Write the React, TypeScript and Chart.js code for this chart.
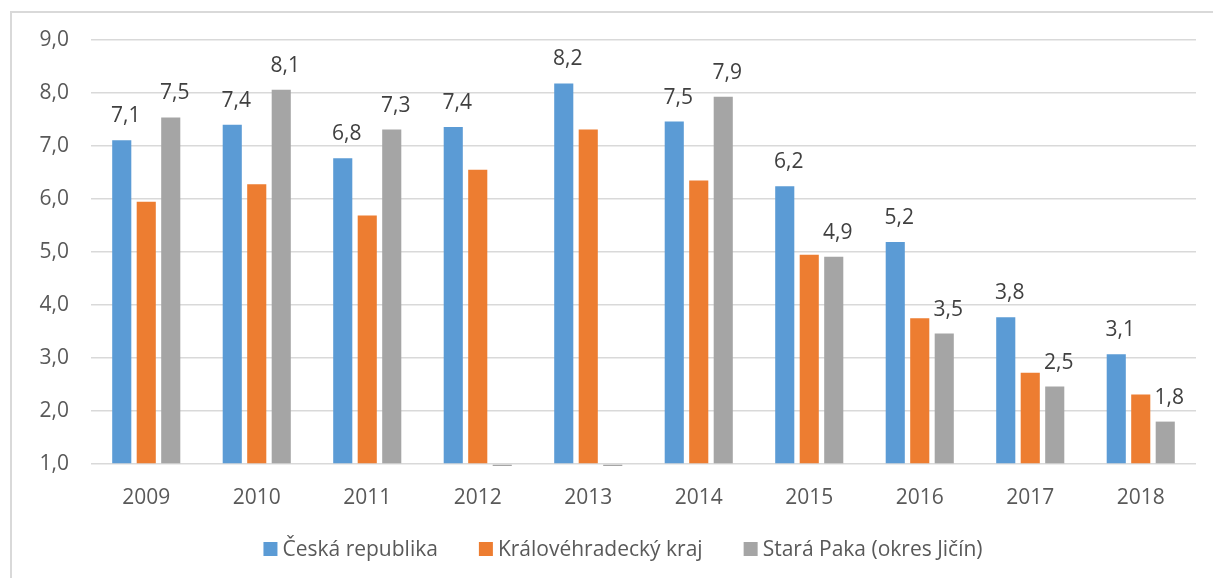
import React, { useEffect, useRef } from "react";
import { Chart, registerables } from "chart.js";

Chart.register(...registerables);

const years = ["2009", "2010", "2011", "2012", "2013", "2014", "2015", "2016", "2017", "2018"];
const ceskaRepublika = [7.11, 7.4, 6.77, 7.36, 8.18, 7.46, 6.24, 5.19, 3.77, 3.07];
const kralovehradeckyKraj = [5.95, 6.28, 5.69, 6.55, 7.31, 6.35, 4.95, 3.75, 2.72, 2.31];
const staraPaka = [7.54, 8.06, 7.31, 0, 0, 7.93, 4.91, 3.46, 2.46, 1.8];

const seriesNames = ["Česká republika", "Královéhradecký kraj", "Stará Paka (okres Jičín)"];
const seriesColors = ["#5B9BD5", "#ED7D31", "#A5A5A5"];
const labelledSeries = [true, false, true];

const yMin = 1;
const yMax = 9;
const yStep = 1;

const FONT = "'Open Sans', sans-serif";
const FS = 21;
const fmt = (v: number) => v.toFixed(1).replace(".", ",");

export default function App() {
  const ref = useRef<HTMLCanvasElement>(null);

  useEffect(() => {
    if (!ref.current) return;

    const labelPlugin = {
      id: "valueLabelsAndLegend",
      afterDatasetsDraw(chart: any) {
        const ctx = chart.ctx;
        ctx.save();
        ctx.font = `${FS}px ${FONT}`;
        ctx.fillStyle = "#404040";
        ctx.textAlign = "center";
        ctx.textBaseline = "alphabetic";
        chart.data.datasets.forEach((ds: any, i: number) => {
          if (!labelledSeries[i]) return;
          const meta = chart.getDatasetMeta(i);
          meta.data.forEach((bar: any, j: number) => {
            const v = ds.data[j];
            if (v == null || v < yMin) return;
            ctx.fillText(fmt(v), bar.x + 4, bar.y - 18);
          });
        });
        ctx.restore();
      },
      afterDraw(chart: any) {
        const ctx = chart.ctx;
        ctx.save();
        ctx.font = `${FS}px ${FONT}`;
        const box = 14;
        const gapText = 5;
        const gapItem = 41;
        const widths = seriesNames.map((n) => box + gapText + ctx.measureText(n).width);
        const total = widths.reduce((a, b) => a + b, 0) + gapItem * (seriesNames.length - 1);
        const centerX = 623;
        const y = 549;
        let x = centerX - total / 2;
        seriesNames.forEach((name, i) => {
          ctx.fillStyle = seriesColors[i];
          ctx.fillRect(x, y - 7, box, box);
          ctx.fillStyle = "#595959";
          ctx.textAlign = "left";
          ctx.textBaseline = "middle";
          ctx.fillText(name, x + box + gapText, y + 1);
          x += widths[i] + gapItem;
        });
        ctx.restore();
      },
    };

    const chart = new Chart(ref.current, {
      type: "bar",
      data: {
        labels: years,
        datasets: [
          { label: seriesNames[0], data: ceskaRepublika, backgroundColor: seriesColors[0], base: yMin },
          { label: seriesNames[1], data: kralovehradeckyKraj, backgroundColor: seriesColors[1], base: yMin },
          {
            label: seriesNames[2],
            data: staraPaka,
            backgroundColor: seriesColors[2],
            base: yMin,
            clip: { left: false, top: false, right: false, bottom: 2 } as any,
          },
        ] as any,
      },
      options: {
        responsive: false,
        animation: false,
        devicePixelRatio: 1,
        categoryPercentage: 0.665,
        barPercentage: 0.78,
        layout: { padding: { left: 0, right: 17, top: 40, bottom: 54 } },
        plugins: {
          legend: { display: false },
          tooltip: { enabled: false },
        },
        scales: {
          x: {
            grid: { display: false },
            border: { display: false },
            ticks: {
              padding: 13,
              color: "#595959",
              font: { family: FONT, size: FS },
            },
            afterFit: (scale: any) => {
              scale.height = 60;
            },
          },
          y: {
            min: yMin,
            max: yMax,
            beginAtZero: false,
            grid: { color: "#d9d9d9", lineWidth: 1.5, drawTicks: false },
            border: { display: false },
            ticks: {
              stepSize: yStep,
              padding: 22,
              color: "#595959",
              font: { family: FONT, size: FS },
              callback: (v: any) => fmt(Number(v)),
            },
            afterFit: (scale: any) => {
              scale.width = 91;
            },
          },
        },
      },
      plugins: [labelPlugin],
    });

    return () => chart.destroy();
  }, []);

  return (
    <div
      style={{
        position: "fixed",
        left: 0,
        top: 0,
        width: 1213,
        height: 578,
        overflow: "hidden",
        background: "#ffffff",
      }}
    >
      <div
        style={{
          position: "absolute",
          left: 10,
          top: 11,
          width: 1400,
          height: 800,
          border: "2px solid #d9d9d9",
        }}
      />
      <canvas
        ref={ref}
        width={1213}
        height={578}
        style={{ position: "absolute", left: 0, top: 0, width: 1213, height: 578 }}
      />
    </div>
  );
}
